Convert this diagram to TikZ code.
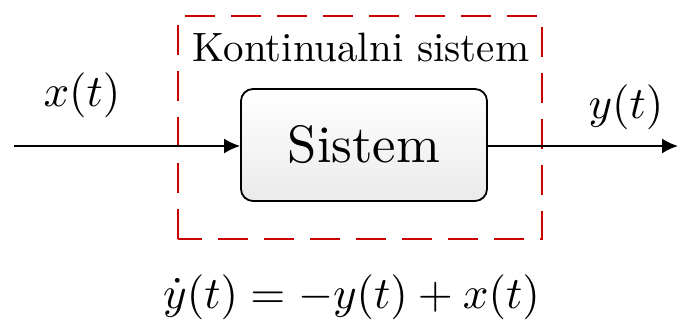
\documentclass[tikz,border=0pt]{standalone}
\usepackage{fontspec}
\usepackage{graphicx}
\usetikzlibrary{arrows.meta}
\definecolor{dashred}{RGB}{204,0,0}
\newcommand{\bigtxt}[2]{\scalebox{#1}{\fontsize{10}{12}\selectfont #2}}
\begin{document}
\begin{tikzpicture}[x=0.5pt,y=-0.5pt,
  sysbox/.style={draw=black, line width=0.9pt, rounded corners=6pt,
    minimum width=123pt, minimum height=56pt, inner sep=0pt,
    top color=white, bottom color=black!8},
  frame/.style={draw=dashred, line width=1pt, dash pattern=on 15pt off 8pt},
  sig/.style={line width=1pt, -{Latex[length=8pt,width=7.5pt]}},
  lbl/.style={inner sep=0pt, anchor=base}]
\useasboundingbox (0,0) rectangle (678,324);
\draw[frame] (178,239) rectangle (542,16);
\node[lbl] (tit) at (361,62) {\bigtxt{2.05}{Kontinualni sistem}};
\node[sysbox] (sys) at (364,145) {\bigtxt{2.63}{Sistem}};
\coordinate (in) at (14,146);
\coordinate (out) at (678,146);
\draw[sig] (in) -- (sys.west |- in);
\draw[sig] (sys.east |- out) -- (out);
\node[lbl] (xl) at (82,107) {\bigtxt{2.25}{$x(t)$}};
\node[lbl] (yl) at (626,119) {\bigtxt{2.25}{$y(t)$}};
\node[lbl] (eq) at (351.5,309) {\bigtxt{2.25}{$\dot{y}(t) = -y(t) + x(t)$}};
\end{tikzpicture}
\end{document}
